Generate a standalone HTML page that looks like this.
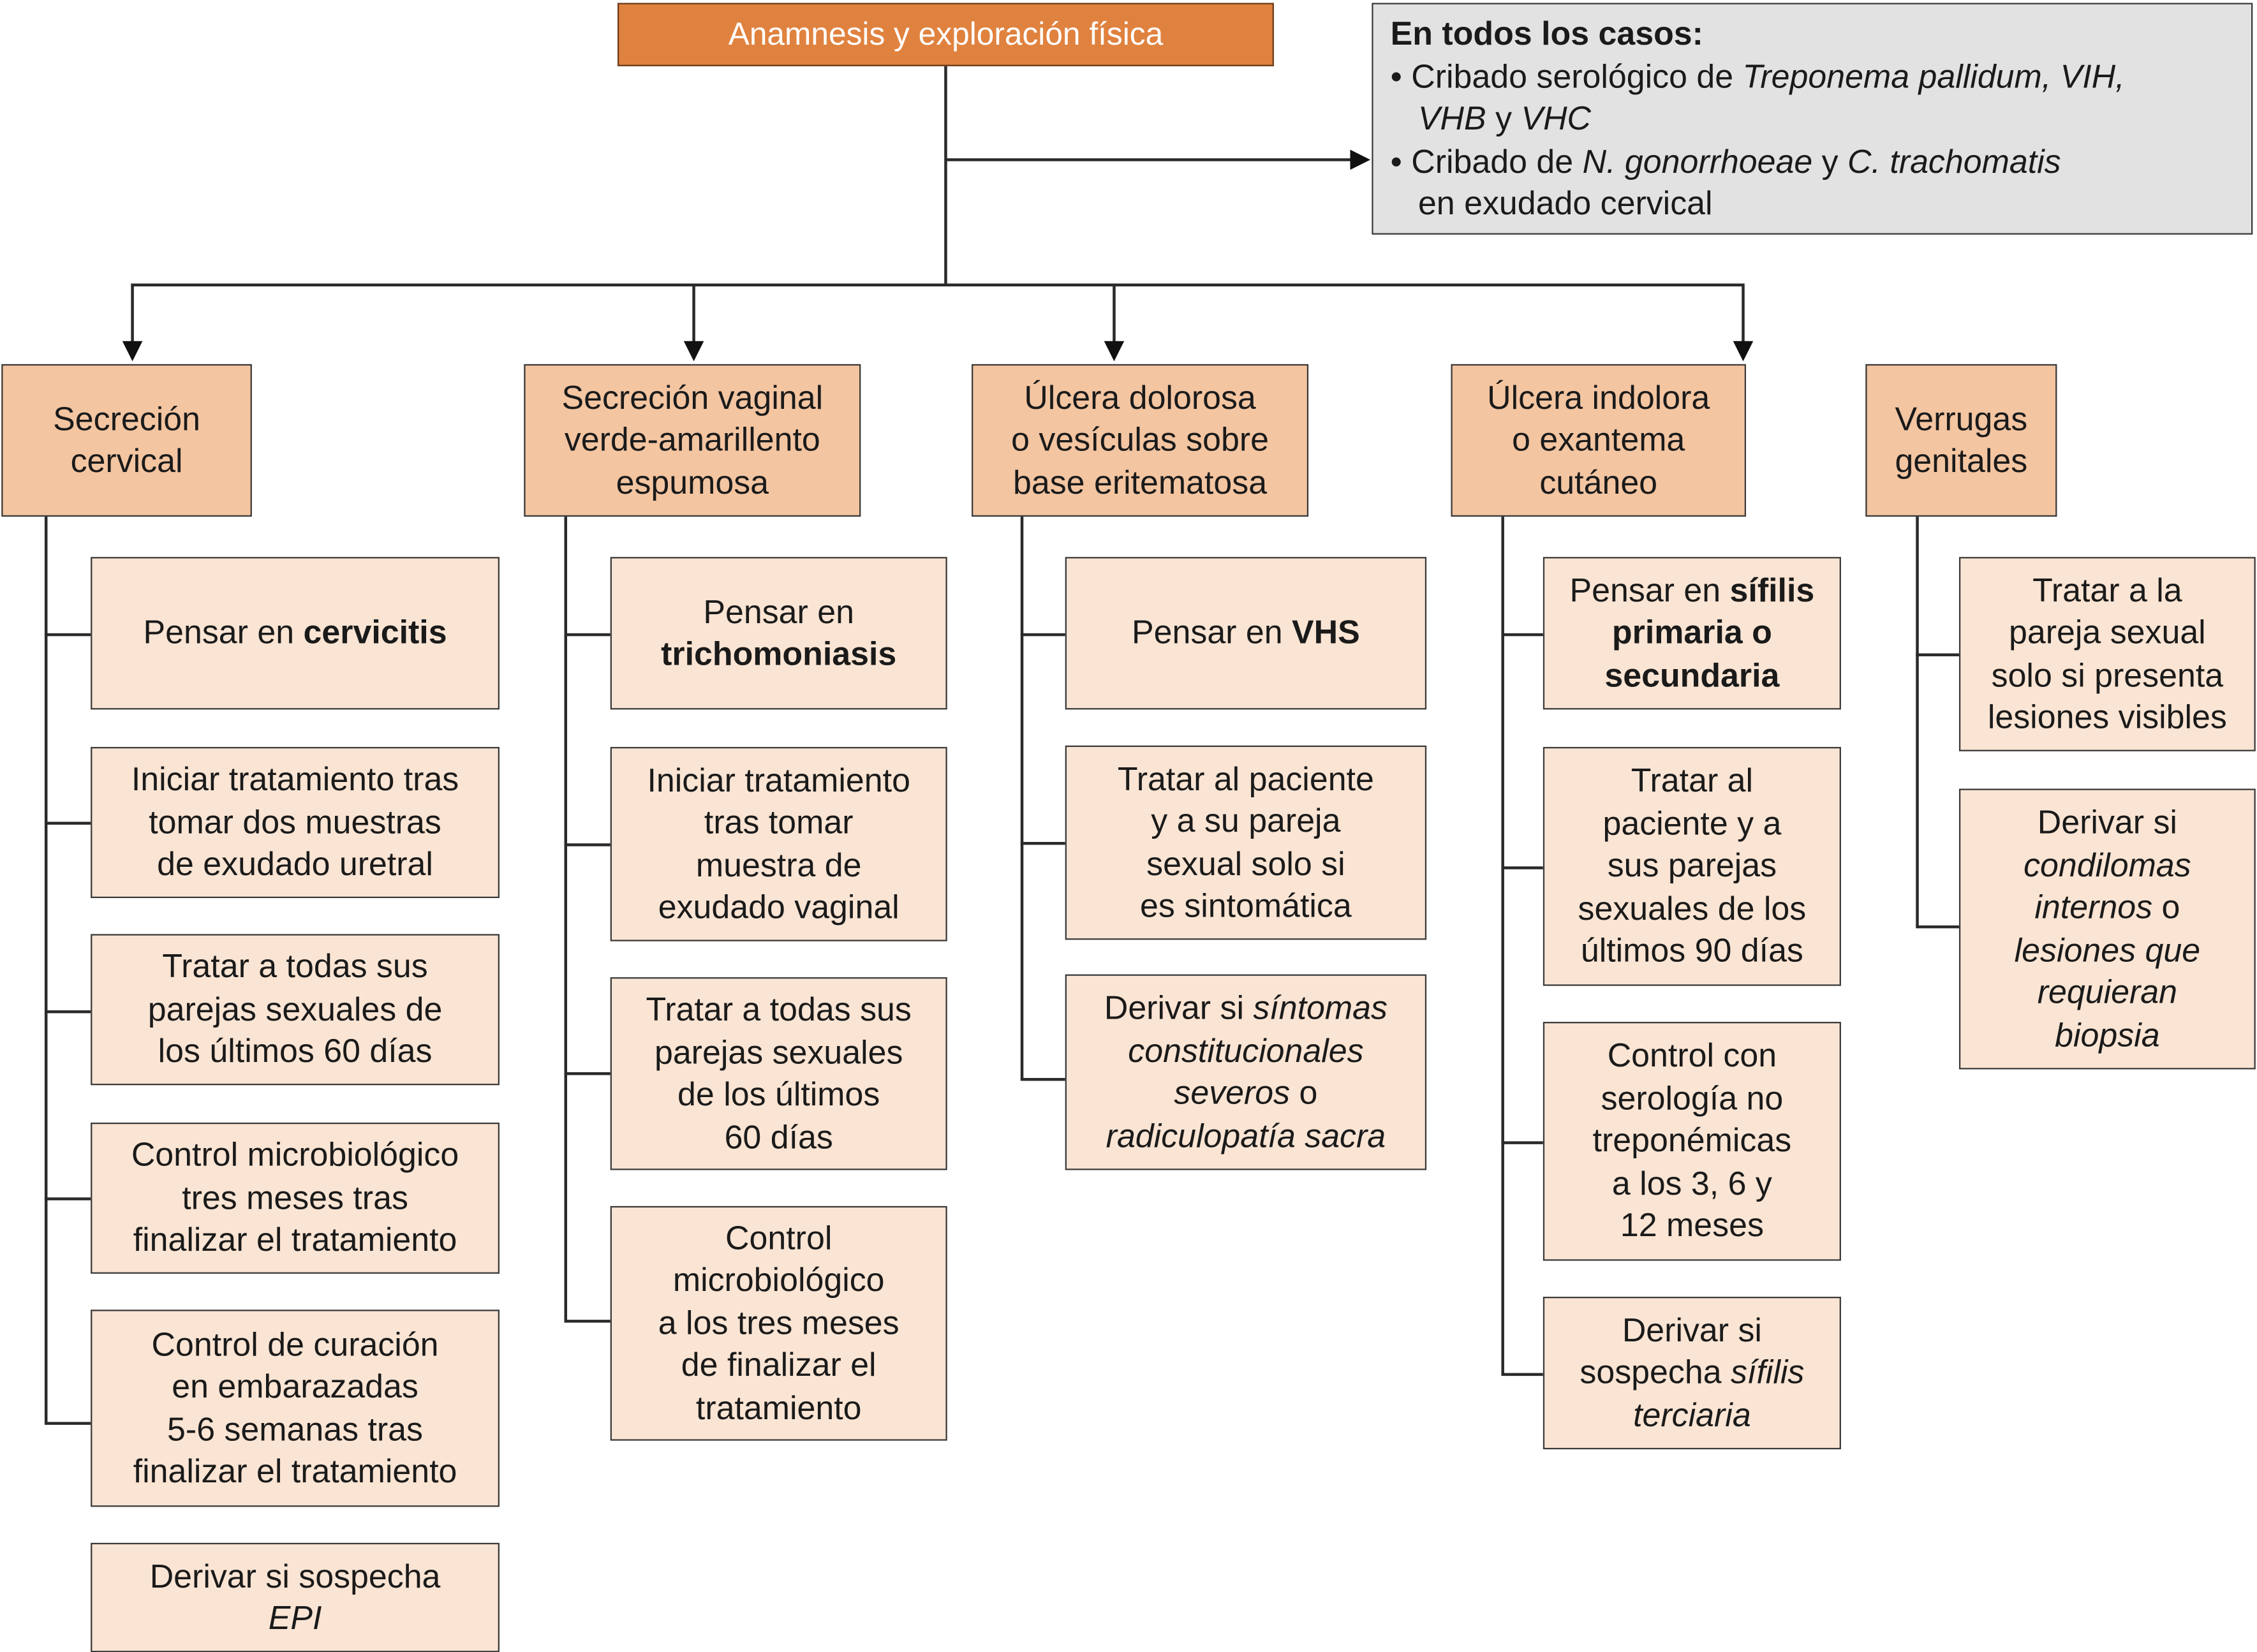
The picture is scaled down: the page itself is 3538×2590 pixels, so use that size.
<!DOCTYPE html>
<html><head><meta charset="utf-8">
<style>
html,body{margin:0;padding:0;background:#fff;}
body{width:3538px;height:2590px;overflow:hidden;}
#w{position:absolute;left:0;top:0;width:1568px;height:1148px;transform:scale(2.2564);transform-origin:0 0;font-family:"Liberation Sans",Arial,sans-serif;color:#1a1a1a;}
.b{position:absolute;box-sizing:border-box;border:1.5px solid #3a3a3a;background:#fae4d3;display:flex;align-items:center;justify-content:center;text-align:center;font-size:23px;line-height:29.5px;}
.b>div{width:100%;}
.h{background:#f3c5a1;}
.l{position:absolute;background:#2a2a2a;}
.a{position:absolute;width:0;height:0;}
</style></head><body><div id="w">
<div class="b" style="left:429px;top:2px;width:456px;height:44px;background:#e0823f;color:#fff;font-size:22px;border-color:#6a3a1a"><div>Anamnesis y exploración física</div></div>
<div class="b" style="left:953px;top:2px;width:612px;height:161px;background:#e2e2e3;display:block;text-align:left;padding:6px 12px;font-size:23px;line-height:29.5px"><b>En todos los casos:</b><br>• Cribado serológico de <i>Treponema pallidum, VIH,</i><br>&nbsp;&nbsp;&nbsp;<i>VHB</i> y <i>VHC</i><br>• Cribado de <i>N. gonorrhoeae</i> y <i>C. trachomatis</i><br>&nbsp;&nbsp;&nbsp;en exudado cervical</div>

<div class="l" style="left:656px;top:46px;width:1.5px;height:152px"></div>
<div class="l" style="left:657px;top:110px;width:283px;height:1.5px"></div>
<div class="a" style="left:938px;top:104px;border-left:14px solid #111;border-top:7px solid transparent;border-bottom:7px solid transparent"></div>
<div class="l" style="left:91px;top:197px;width:1120px;height:1.5px"></div>
<div class="l" style="left:91px;top:197px;width:1.5px;height:42px"></div>
<div class="l" style="left:481px;top:197px;width:1.5px;height:42px"></div>
<div class="l" style="left:773px;top:197px;width:1.5px;height:42px"></div>
<div class="l" style="left:1210px;top:197px;width:1.5px;height:42px"></div>
<div class="a" style="left:85px;top:237px;border-top:14px solid #111;border-left:7px solid transparent;border-right:7px solid transparent"></div>
<div class="a" style="left:475px;top:237px;border-top:14px solid #111;border-left:7px solid transparent;border-right:7px solid transparent"></div>
<div class="a" style="left:767px;top:237px;border-top:14px solid #111;border-left:7px solid transparent;border-right:7px solid transparent"></div>
<div class="a" style="left:1204px;top:237px;border-top:14px solid #111;border-left:7px solid transparent;border-right:7px solid transparent"></div>

<div class="b h" style="left:1px;top:253px;width:174px;height:106px"><div>Secreción<br>cervical</div></div>
<div class="b h" style="left:364px;top:253px;width:234px;height:106px"><div>Secreción vaginal<br>verde-amarillento<br>espumosa</div></div>
<div class="b h" style="left:675px;top:253px;width:234px;height:106px"><div>Úlcera dolorosa<br>o vesículas sobre<br>base eritematosa</div></div>
<div class="b h" style="left:1008px;top:253px;width:205px;height:106px"><div>Úlcera indolora<br>o exantema<br>cutáneo</div></div>
<div class="b h" style="left:1296px;top:253px;width:133px;height:106px"><div>Verrugas<br>genitales</div></div>

<!-- col1 -->
<div class="l" style="left:31px;top:359px;width:1.5px;height:630px"></div>
<div class="l" style="left:31px;top:440px;width:32px;height:1.5px"></div>
<div class="l" style="left:31px;top:571px;width:32px;height:1.5px"></div>
<div class="l" style="left:31px;top:702px;width:32px;height:1.5px"></div>
<div class="l" style="left:31px;top:832px;width:32px;height:1.5px"></div>
<div class="l" style="left:31px;top:988px;width:32px;height:1.5px"></div>
<div class="b" style="left:63px;top:387px;width:284px;height:106px"><div>Pensar en <b>cervicitis</b></div></div>
<div class="b" style="left:63px;top:519px;width:284px;height:105px"><div>Iniciar tratamiento tras<br>tomar dos muestras<br>de exudado uretral</div></div>
<div class="b" style="left:63px;top:649px;width:284px;height:105px"><div>Tratar a todas sus<br>parejas sexuales de<br>los últimos 60 días</div></div>
<div class="b" style="left:63px;top:780px;width:284px;height:105px"><div>Control microbiológico<br>tres meses tras<br>finalizar el tratamiento</div></div>
<div class="b" style="left:63px;top:910px;width:284px;height:137px"><div>Control de curación<br>en embarazadas<br>5-6 semanas tras<br>finalizar el tratamiento</div></div>
<div class="b" style="left:63px;top:1072px;width:284px;height:76px"><div>Derivar si sospecha<br><i>EPI</i></div></div>

<!-- col2 -->
<div class="l" style="left:392px;top:359px;width:1.5px;height:559px"></div>
<div class="l" style="left:392px;top:440px;width:32px;height:1.5px"></div>
<div class="l" style="left:392px;top:586px;width:32px;height:1.5px"></div>
<div class="l" style="left:392px;top:745px;width:32px;height:1.5px"></div>
<div class="l" style="left:392px;top:917px;width:32px;height:1.5px"></div>
<div class="b" style="left:424px;top:387px;width:234px;height:106px"><div>Pensar en<br><b>trichomoniasis</b></div></div>
<div class="b" style="left:424px;top:519px;width:234px;height:135px"><div>Iniciar tratamiento<br>tras tomar<br>muestra de<br>exudado vaginal</div></div>
<div class="b" style="left:424px;top:679px;width:234px;height:134px"><div>Tratar a todas sus<br>parejas sexuales<br>de los últimos<br>60 días</div></div>
<div class="b" style="left:424px;top:838px;width:234px;height:163px"><div>Control<br>microbiológico<br>a los tres meses<br>de finalizar el<br>tratamiento</div></div>

<!-- col3 -->
<div class="l" style="left:709px;top:359px;width:1.5px;height:391px"></div>
<div class="l" style="left:709px;top:440px;width:31px;height:1.5px"></div>
<div class="l" style="left:709px;top:585px;width:31px;height:1.5px"></div>
<div class="l" style="left:709px;top:749px;width:31px;height:1.5px"></div>
<div class="b" style="left:740px;top:387px;width:251px;height:106px"><div>Pensar en <b>VHS</b></div></div>
<div class="b" style="left:740px;top:518px;width:251px;height:135px"><div>Tratar al paciente<br>y a su pareja<br>sexual solo si<br>es sintomática</div></div>
<div class="b" style="left:740px;top:677px;width:251px;height:136px"><div>Derivar si <i>síntomas</i><br><i>constitucionales</i><br><i>severos</i> o<br><i>radiculopatía sacra</i></div></div>

<!-- col4 -->
<div class="l" style="left:1043px;top:359px;width:1.5px;height:596px"></div>
<div class="l" style="left:1043px;top:440px;width:29px;height:1.5px"></div>
<div class="l" style="left:1043px;top:602px;width:29px;height:1.5px"></div>
<div class="l" style="left:1043px;top:793px;width:29px;height:1.5px"></div>
<div class="l" style="left:1043px;top:954px;width:29px;height:1.5px"></div>
<div class="b" style="left:1072px;top:387px;width:207px;height:106px"><div>Pensar en <b>sífilis</b><br><b>primaria o</b><br><b>secundaria</b></div></div>
<div class="b" style="left:1072px;top:519px;width:207px;height:166px"><div>Tratar al<br>paciente y a<br>sus parejas<br>sexuales de los<br>últimos 90 días</div></div>
<div class="b" style="left:1072px;top:710px;width:207px;height:166px"><div>Control con<br>serología no<br>treponémicas<br>a los 3, 6 y<br>12 meses</div></div>
<div class="b" style="left:1072px;top:901px;width:207px;height:106px"><div>Derivar si<br>sospecha <i>sífilis</i><br><i>terciaria</i></div></div>

<!-- col5 -->
<div class="l" style="left:1331px;top:359px;width:1.5px;height:285px"></div>
<div class="l" style="left:1331px;top:454px;width:30px;height:1.5px"></div>
<div class="l" style="left:1331px;top:643px;width:30px;height:1.5px"></div>
<div class="b" style="left:1361px;top:387px;width:206px;height:135px"><div>Tratar a la<br>pareja sexual<br>solo si presenta<br>lesiones visibles</div></div>
<div class="b" style="left:1361px;top:548px;width:206px;height:195px"><div>Derivar si<br><i>condilomas</i><br><i>internos</i> o<br><i>lesiones que</i><br><i>requieran</i><br><i>biopsia</i></div></div>
</div></body></html>
